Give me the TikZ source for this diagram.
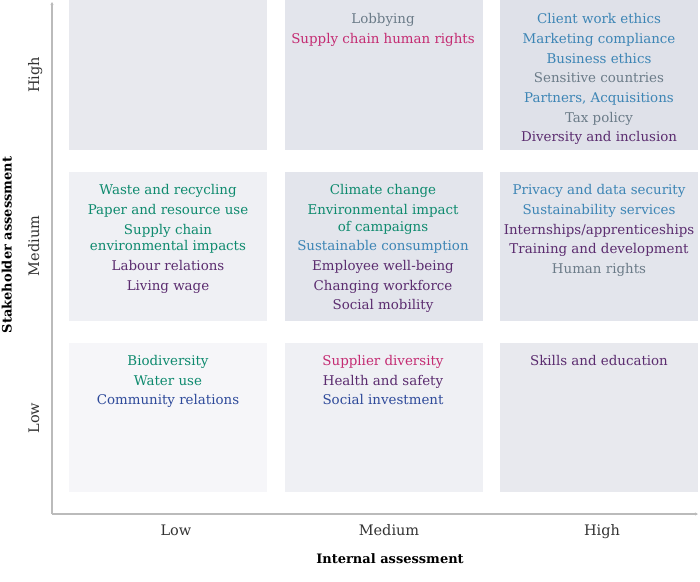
\documentclass[tikz,border=0pt]{standalone}
\usepackage{fontspec}
\setmainfont{DejaVu Serif}
\usetikzlibrary{arrows.meta}
\definecolor{cA}{HTML}{E8E9EE}
\definecolor{cB}{HTML}{E3E5EC}
\definecolor{cC}{HTML}{DFE1E9}
\definecolor{cD}{HTML}{EFF0F4}
\definecolor{cE}{HTML}{F6F6F9}
\definecolor{tgreen}{HTML}{0E8A6E}
\definecolor{tblue}{HTML}{3D85B5}
\definecolor{tgray}{HTML}{6B7B88}
\definecolor{tpurple}{HTML}{5B2C6F}
\definecolor{tmag}{HTML}{C42B72}
\definecolor{tnavy}{HTML}{2E4A9A}
\definecolor{axisc}{HTML}{BBBBBB}
\tikzset{
  item/.style={inner sep=0pt, font=\fontsize{13.4}{15}\selectfont, anchor=center,
    text height=10pt, text depth=3pt, yshift=-2pt},
  lvl/.style={inner sep=0pt, font=\fontsize{14.5}{16}\selectfont, text=black!80,
    text height=11pt, text depth=3pt},
  ttl/.style={inner sep=0pt, font=\fontsize{13}{15}\selectfont\bfseries, text=black,
    text height=10pt, text depth=3pt},
  axisline/.style={draw=axisc, line width=1.2pt, -{Stealth[length=3pt,width=3pt]}}
}
\begin{document}
\begin{tikzpicture}[x=1pt,y=-1pt]
\useasboundingbox (0,0) rectangle (700,581);
% cells
\fill[cA] (69,0) rectangle (267,150);
\fill[cB] (285,0) rectangle (483,150);
\fill[cC] (500,0) rectangle (698,150);
\fill[cD] (69,172) rectangle (267,321);
\fill[cB] (285,172) rectangle (483,321);
\fill[cB] (500,172) rectangle (698,321);
\fill[cE] (69,343) rectangle (267,492);
\fill[cD] (285,343) rectangle (483,492);
\fill[cA] (500,343) rectangle (698,492);
% axes
\coordinate (o) at (52,514);
\coordinate (ytop) at (52,2);
\coordinate (xend) at (698,514);
\draw[axisline] (o) -- (ytop);
\draw[axisline] (o) -- (xend);
% axis labels
\node[lvl, rotate=90] (yh) at (35,75) {High};
\node[lvl, rotate=90] (ym) at (35,246) {Medium};
\node[lvl, rotate=90] (yl) at (35,418) {Low};
\node[ttl, rotate=90] (ytitle) at (8,245) {Stakeholder assessment};
\node[lvl] (xl) at (176,531) {Low};
\node[lvl] (xm) at (389,531) {Medium};
\node[lvl] (xh) at (602,531) {High};
\node[ttl] (xtitle) at (390,560) {Internal assessment};
% row 1 col 2
\node[item, text=tgray] (a1) at (383,18) {Lobbying};
\node[item, text=tmag] (a2) at (383,38) {Supply chain human rights};
% row 1 col 3
\node[item, text=tblue] (b1) at (599,18) {Client work ethics};
\node[item, text=tblue] (b2) at (599,38) {Marketing compliance};
\node[item, text=tblue] (b3) at (599,58) {Business ethics};
\node[item, text=tgray] (b4) at (599,77) {Sensitive countries};
\node[item, text=tblue] (b5) at (599,97) {Partners, Acquisitions};
\node[item, text=tgray] (b6) at (599,117) {Tax policy};
\node[item, text=tpurple] (b7) at (599,136) {Diversity and inclusion};
% row 2 col 1
\node[item, text=tgreen] (c1) at (168,189) {Waste and recycling};
\node[item, text=tgreen] (c2) at (168,209) {Paper and resource use};
\node[item, text=tgreen] (c3) at (168,229) {Supply chain};
\node[item, text=tgreen] (c3b) at (168,245) {environmental impacts};
\node[item, text=tpurple] (c4) at (168,265) {Labour relations};
\node[item, text=tpurple] (c5) at (168,285) {Living wage};
% row 2 col 2
\node[item, text=tgreen] (d1) at (383,189) {Climate change};
\node[item, text=tgreen] (d2) at (383,209) {Environmental impact};
\node[item, text=tgreen] (d2b) at (383,226) {of campaigns};
\node[item, text=tblue] (d3) at (383,245) {Sustainable consumption};
\node[item, text=tpurple] (d4) at (383,265) {Employee well-being};
\node[item, text=tpurple] (d5) at (383,285) {Changing workforce};
\node[item, text=tpurple] (d6) at (383,304) {Social mobility};
% row 2 col 3
\node[item, text=tblue] (e1) at (599,189) {Privacy and data security};
\node[item, text=tblue] (e2) at (599,209) {Sustainability services};
\node[item, text=tpurple] (e3) at (599,229) {Internships/apprenticeships};
\node[item, text=tpurple] (e4) at (599,248) {Training and development};
\node[item, text=tgray] (e5) at (599,268) {Human rights};
% row 3 col 1
\node[item, text=tgreen] (f1) at (168,360) {Biodiversity};
\node[item, text=tgreen] (f2) at (168,380) {Water use};
\node[item, text=tnavy] (f3) at (168,399) {Community relations};
% row 3 col 2
\node[item, text=tmag] (g1) at (383,360) {Supplier diversity};
\node[item, text=tpurple] (g2) at (383,380) {Health and safety};
\node[item, text=tnavy] (g3) at (383,399) {Social investment};
% row 3 col 3
\node[item, text=tpurple] (h1) at (599,360) {Skills and education};
\end{tikzpicture}
\end{document}
